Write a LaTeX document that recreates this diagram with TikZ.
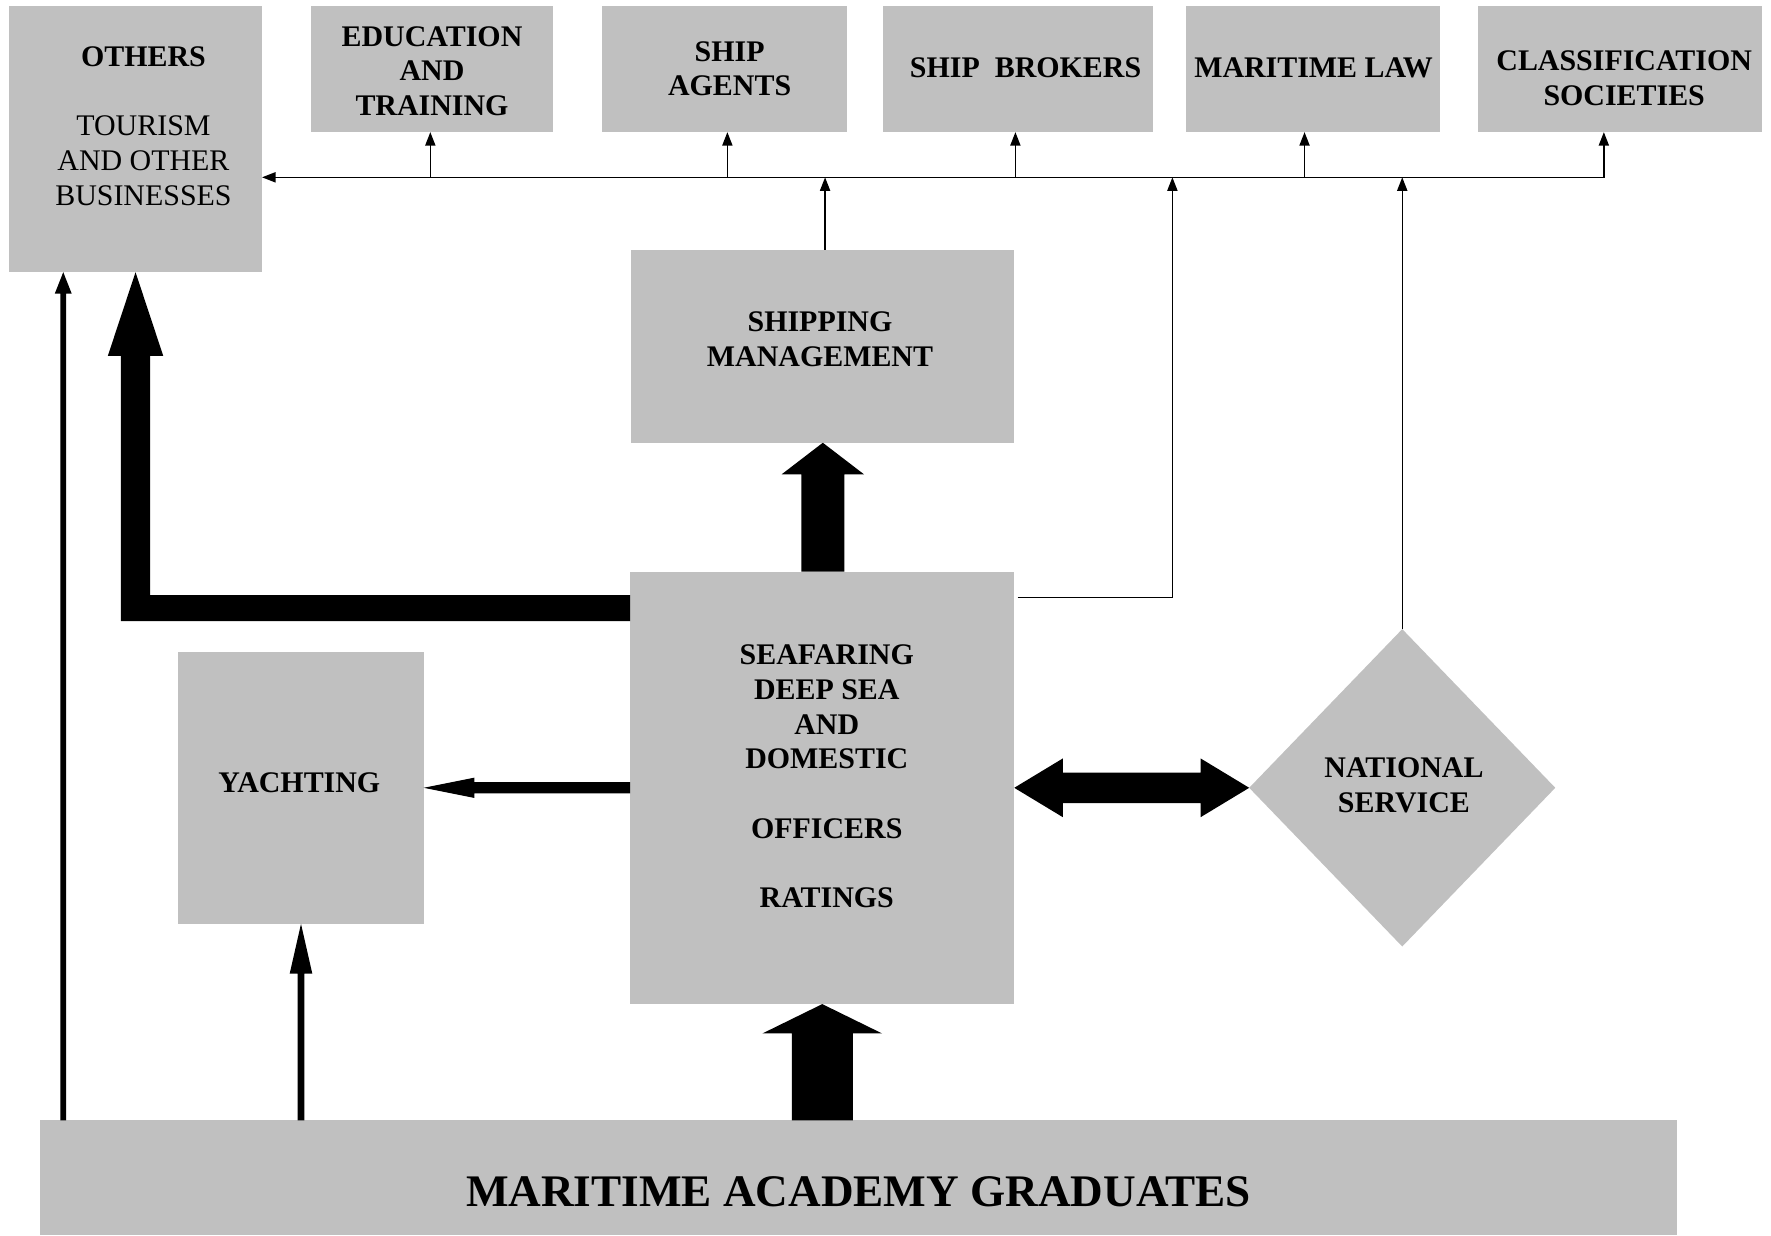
\documentclass[tikz,border=0pt]{standalone}
\usepackage{fontspec}
\setmainfont{Liberation Serif}
\usetikzlibrary{arrows.meta,shapes.geometric,calc}
\definecolor{boxgray}{RGB}{192,192,192}
\newcommand\mytxt{\fontsize{26.5}{30.7}\selectfont}
% upward block arrow: start, tip, shaft half width, head half width, head length
\newcommand\myblockup[5]{%
  \fill let \p1=#1, \p2=#2 in
   (\x2-#3,\y1) -- (\x2-#3,\y2-#5) -- (\x2-#4,\y2-#5) -- (\x2,\y2) --
   (\x2+#4,\y2-#5) -- (\x2+#3,\y2-#5) -- (\x2+#3,\y1) -- cycle;}
% leftward block arrow: start, tip, shaft half width, head half width, head length
\newcommand\myblockleft[5]{%
  \fill let \p1=#1, \p2=#2 in
   (\x1,\y2-#3) -- (\x2+#5,\y2-#3) -- (\x2+#5,\y2-#4) -- (\x2,\y2) --
   (\x2+#5,\y2+#4) -- (\x2+#5,\y2+#3) -- (\x1,\y2+#3) -- cycle;}
\begin{document}
\begin{tikzpicture}[x=1pt,y=-1pt,
  box/.style={rectangle, fill=boxgray, draw=none, inner sep=0pt, outer sep=0pt},
  lbl/.style={font=\mytxt\bfseries, align=center, inner sep=0pt},
  plainlbl/.style={font=\mytxt, align=center, inner sep=0pt},
  thinarr/.style={line width=1.3pt, -{Triangle[length=12pt,width=9pt]}},
  ]
\useasboundingbox (0,0) rectangle (1568,1094);

% ---- boxes ----
\node[box, minimum width=224pt, minimum height=236pt] (others) at (120,123) {};
\node[box, minimum width=215pt, minimum height=112pt] (edu) at (382.5,61) {};
\node[box, minimum width=217pt, minimum height=112pt] (agents) at (641.5,61) {};
\node[box, minimum width=239pt, minimum height=112pt] (brokers) at (901.5,61) {};
\node[box, minimum width=225pt, minimum height=112pt] (law) at (1162.5,61) {};
\node[box, minimum width=251pt, minimum height=112pt] (cls) at (1434.5,61) {};
\node[box, minimum width=339pt, minimum height=171pt] (mgmt) at (728.5,306.5) {};
\node[box, minimum width=340pt, minimum height=383pt] (sea) at (728,697.5) {};
\node[box, minimum width=217pt, minimum height=241pt] (yacht) at (266.5,697.5) {};
\node[diamond, fill=boxgray, draw=none, inner sep=0pt, outer sep=0pt,
      minimum width=271pt, minimum height=281pt] (ns) at (1241.5,697.5) {};
\node[box, minimum width=1450pt, minimum height=101pt] (grad) at (760,1042.5) {};

% ---- texts ----
\node[plainlbl] (othersT) at (127,111.5) {\textbf{OTHERS}\\[30.7pt]TOURISM\\AND OTHER\\BUSINESSES};
\node[lbl] (eduT) at (382.5,63) {EDUCATION\\AND\\TRAINING};
\node[lbl] (agentsT) at (646,61) {SHIP\\AGENTS};
\node[lbl] (brokersT) at (908,60) {SHIP\ \ BROKERS};
\node[lbl] (lawT) at (1163,60) {MARITIME LAW};
\node[lbl] (clsT) at (1438,69.5) {CLASSIFICATION\\SOCIETIES};
\node[lbl] (mgmtT) at (726,300.5) {SHIPPING\\MANAGEMENT};
\node[lbl] (seaT) at (732,687.5) {SEAFARING\\DEEP SEA\\AND\\DOMESTIC\\[30.7pt]OFFICERS\\[30.7pt]RATINGS};
\node[lbl] (yachtT) at (265,693) {YACHTING};
\node[lbl] (nsT) at (1243,695) {NATIONAL\\SERVICE};
\node[font=\fontsize{40}{46}\selectfont\bfseries, inner sep=0pt] (gradT) at (760,1055) {MARITIME ACADEMY GRADUATES};

% ---- thin bus connectors ----
\coordinate (bus) at (1420,157);
\coordinate (b1) at (381,157);
\coordinate (b2) at (644,157);
\coordinate (b3) at (899,157);
\coordinate (b4) at (1155,157);
\coordinate (j1) at (1038,157);
\draw[line width=1.3pt, {Triangle[length=12pt,width=9pt]}-{Triangle[length=12pt,width=9pt]}]
  (bus -| others.east) -- (bus) -- (bus |- cls.south);
\draw[thinarr] (b1) -- (b1 |- edu.south);
\draw[thinarr] (b2) -- (b2 |- agents.south);
\draw[thinarr] (b3) -- (b3 |- brokers.south);
\draw[thinarr] (b4) -- (b4 |- law.south);
\draw[thinarr] ([xshift=2pt]mgmt.north) -- ([xshift=2pt]mgmt.north |- bus);
\draw[thinarr] ([xshift=3pt,yshift=-23pt]sea.north east) -| (j1);
\draw[thinarr] (ns.north) -- (ns.north |- bus);

% ---- thick block arrows ----
\coordinate (lx) at (56,0);
\coordinate (Ls) at ([yshift=-32.5pt]sea.north west);
% big L arrow from seafaring to others
\fill let \p1=(Ls), \p2=(others.south) in
  (\x1,\y1+11.5pt) -- (\x2+13pt,\y1+11.5pt) -- (\x2+13pt,\y2-74pt) -- (\x2+24.5pt,\y2-74pt) --
  (\x2,\y2) -- (\x2-24.5pt,\y2-74pt) -- (\x2-13pt,\y2-74pt) -- (\x2-13pt,\y1-11.5pt) --
  (\x1,\y1-11.5pt) -- cycle;
% graduates to others (long narrow arrow)
\myblockup{(grad.north -| lx)}{(others.south -| lx)}{2.5pt}{7.5pt}{19pt}
% graduates to yachting
\myblockup{(grad.north -| yacht.south)}{(yacht.south)}{3pt}{10pt}{44pt}
% graduates to seafaring
\myblockup{(grad.north)}{(sea.south)}{27pt}{53pt}{26pt}
% seafaring to shipping management
\myblockup{(sea.north)}{(mgmt.south)}{19pt}{36.5pt}{28pt}
% seafaring to yachting
\myblockleft{(sea.west)}{(yacht.east)}{5pt}{9pt}{45pt}
% seafaring <-> national service
\fill let \p1=(sea.east), \p2=(ns.west) in
  (\x1,\y1) -- (\x1+43pt,\y1+26pt) -- (\x1+43pt,\y1+13.5pt) -- (\x2-43pt,\y1+13.5pt) --
  (\x2-43pt,\y1+26pt) -- (\x2,\y2) -- (\x2-43pt,\y2-26pt) -- (\x2-43pt,\y2-13.5pt) --
  (\x1+43pt,\y1-13.5pt) -- (\x1+43pt,\y1-26pt) -- cycle;
\end{tikzpicture}
\end{document}
